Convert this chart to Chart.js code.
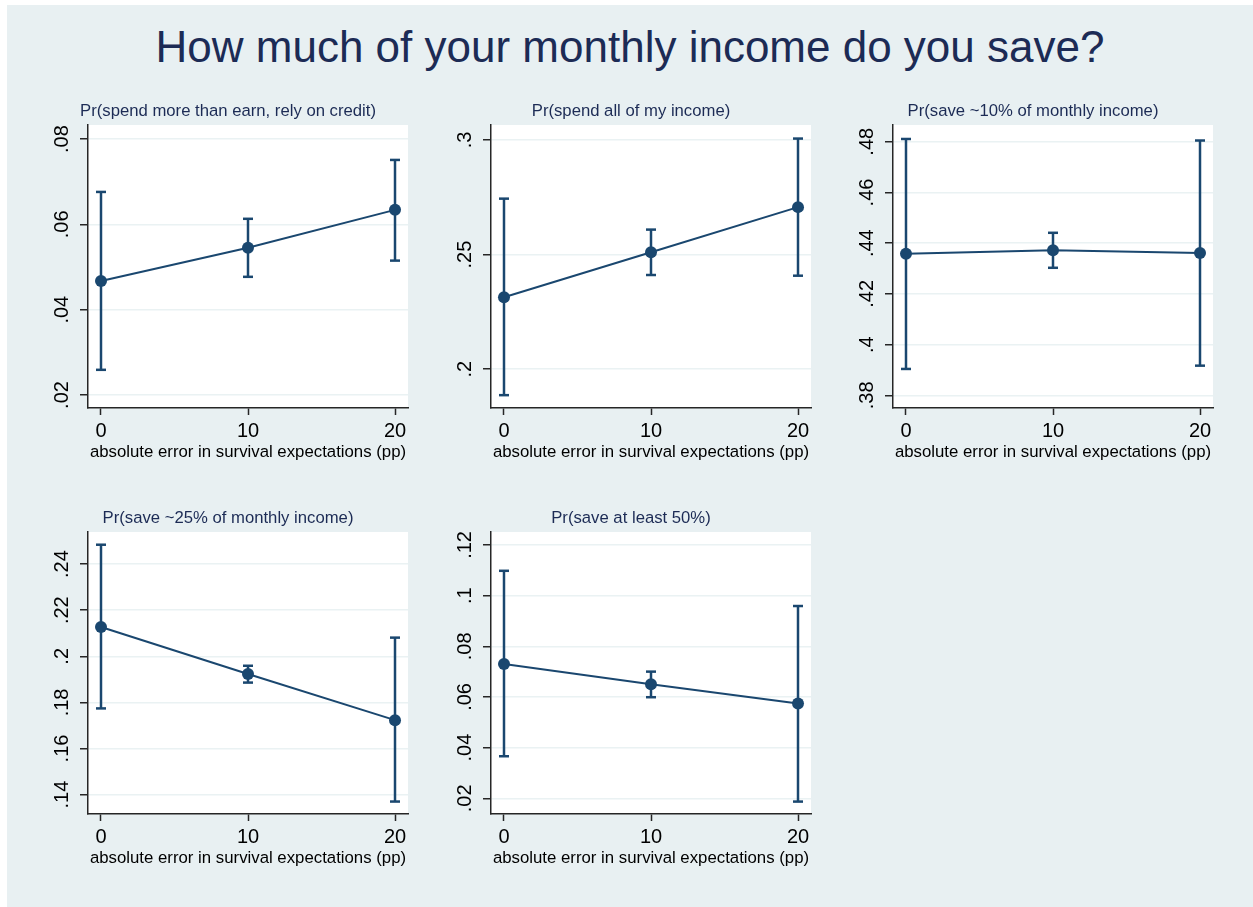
<!DOCTYPE html>
<html>
<head>
<meta charset="utf-8">
<script src="https://cdn.jsdelivr.net/npm/chart.js@4"></script>
<style>
  body { margin: 0; background: #fff; font-family: "Liberation Sans", Arial, sans-serif; }
  #bg { position: absolute; left: 7px; top: 5px; width: 1246px; height: 902px; background: #e8f0f2; }
  #title { position: absolute; left: 0; top: 25px; width: 1260px; text-align: center;
           font-size: 44px; line-height: 44px; color: #1c2b55; margin: 0; font-weight: normal; }
  canvas { position: absolute; }
</style>
</head>
<body>
<div id="bg"></div>
<h1 id="title">How much of your monthly income do you save?</h1>
<canvas id="p1" width="380" height="383" style="left:38px;top:90px"></canvas>
<canvas id="p2" width="380" height="383" style="left:441px;top:90px"></canvas>
<canvas id="p3" width="380" height="383" style="left:843px;top:90px"></canvas>
<canvas id="p4" width="380" height="382" style="left:38px;top:497px"></canvas>
<canvas id="p5" width="380" height="382" style="left:441px;top:497px"></canvas>
<script>
// x categories: absolute error in survival expectations (pp)
var xLevels = [0, 10, 20];
var xTitle = 'absolute error in survival expectations (pp)';

var panelTitles = [
  'Pr(spend more than earn, rely on credit)',
  'Pr(spend all of my income)',
  'Pr(save ~10% of monthly income)',
  'Pr(save ~25% of monthly income)',
  'Pr(save at least 50%)'
];

// point estimates and 95% CI bounds
var creditEst = [0.0467, 0.0545, 0.0634];
var creditLo  = [0.0259, 0.0477, 0.0515];
var creditHi  = [0.0676, 0.0613, 0.0751];

var spendAllEst = [0.2314, 0.2510, 0.2707];
var spendAllLo  = [0.1887, 0.2411, 0.2408];
var spendAllHi  = [0.2744, 0.2609, 0.3006];

var save10Est = [0.4358, 0.4372, 0.4361];
var save10Lo  = [0.3904, 0.4303, 0.3917];
var save10Hi  = [0.4811, 0.4441, 0.4805];

var save25Est = [0.2127, 0.1923, 0.1723];
var save25Lo  = [0.1774, 0.1886, 0.1370];
var save25Hi  = [0.2484, 0.1959, 0.2081];

var save50Est = [0.0730, 0.0650, 0.0574];
var save50Lo  = [0.0366, 0.0599, 0.0187];
var save50Hi  = [0.1098, 0.0700, 0.0959];

// y tick labels per panel
var creditTicks   = [0.02, 0.04, 0.06, 0.08];
var spendAllTicks = [0.2, 0.25, 0.3];
var save10Ticks   = [0.38, 0.4, 0.42, 0.44, 0.46, 0.48];
var save25Ticks   = [0.14, 0.16, 0.18, 0.2, 0.22, 0.24];
var save50Ticks   = [0.02, 0.04, 0.06, 0.08, 0.1, 0.12];

var navy = '#1a476f';
var titleColor = '#1c2b55';
var axisColor = '#262626';
var gridColor = '#eaf2f3';
var fontFamily = '"Liberation Sans", Arial, sans-serif';

var plotBg = {
  id: 'plotBg',
  beforeDraw: function(chart) {
    var a = chart.chartArea, ctx = chart.ctx;
    ctx.save();
    ctx.fillStyle = '#ffffff';
    ctx.fillRect(a.left, a.top, a.right - a.left, a.bottom - a.top);
    ctx.restore();
  }
};

function stataLabel(v) {
  return String(v).replace(/^0\./, '.');
}

function buildDatasets(est, lo, hi) {
  var sets = [{
    data: xLevels.map(function(x, i) { return {x: x, y: est[i]}; }),
    showLine: true,
    borderColor: navy,
    borderWidth: 2,
    pointRadius: 6,
    pointBackgroundColor: navy,
    pointBorderColor: navy,
    pointBorderWidth: 0
  }];
  xLevels.forEach(function(x, i) {
    sets.push({
      data: [{x: x, y: lo[i]}, {x: x, y: hi[i]}],
      showLine: true,
      borderColor: navy,
      borderWidth: 2.5,
      pointStyle: 'line',
      pointRadius: 5,
      pointBorderWidth: 2.5,
      pointBorderColor: navy
    });
  });
  return sets;
}

function makePanel(id, title, est, lo, hi, yMin, yMax, yTicks) {
  new Chart(document.getElementById(id), {
    type: 'scatter',
    data: { datasets: buildDatasets(est, lo, hi) },
    options: {
      responsive: false,
      animation: false,
      devicePixelRatio: 1,
      layout: { padding: 0 },
      plugins: {
        legend: { display: false },
        tooltip: { enabled: false },
        title: {
          display: true, text: title, color: titleColor,
          font: { family: fontFamily, size: 16.7, weight: 'normal', lineHeight: 1.2 },
          padding: { top: 11, bottom: 4 }
        }
      },
      scales: {
        x: {
          type: 'linear', min: -0.884, max: 20.884,
          afterBuildTicks: function(s) { s.ticks = xLevels.map(function(v) { return {value: v}; }); },
          afterFit: function(s) { s.height = 65; s.paddingLeft = 0; s.paddingRight = 10; },
          ticks: { color: '#000', font: { family: fontFamily, size: 20 }, padding: 4, maxRotation: 0, minRotation: 0 },
          grid: { drawOnChartArea: false, tickLength: 7, tickColor: axisColor, tickWidth: 1.5 },
          border: { color: axisColor, width: 1.5 },
          title: { display: true, text: xTitle, color: '#000', font: { family: fontFamily, size: 16.8 }, padding: 11 }
        },
        y: {
          min: yMin, max: yMax,
          afterBuildTicks: function(s) { s.ticks = yTicks.map(function(v) { return {value: v}; }); },
          afterFit: function(s) { s.width = 50; s.paddingTop = 0; s.paddingBottom = 0; },
          ticks: {
            color: '#000', font: { family: fontFamily, size: 20 }, padding: 4,
            minRotation: 90, maxRotation: 90, crossAlign: 'center',
            callback: function(v) { return stataLabel(v); }
          },
          grid: { color: gridColor, lineWidth: 1.5, tickLength: 8, tickColor: axisColor, tickWidth: 1.5 },
          border: { color: axisColor, width: 1.5 }
        }
      }
    },
    plugins: [plotBg]
  });
}

makePanel('p1', panelTitles[0], creditEst, creditLo, creditHi, 0.01695, 0.08328, creditTicks);
makePanel('p2', panelTitles[1], spendAllEst, spendAllLo, spendAllHi, 0.1831, 0.3065, spendAllTicks);
makePanel('p3', panelTitles[2], save10Est, save10Lo, save10Hi, 0.375, 0.4866, save10Ticks);
makePanel('p4', panelTitles[3], save25Est, save25Lo, save25Hi, 0.1316, 0.2539, save25Ticks);
makePanel('p5', panelTitles[4], save50Est, save50Lo, save50Hi, 0.0138, 0.1251, save50Ticks);
</script>
</body>
</html>
